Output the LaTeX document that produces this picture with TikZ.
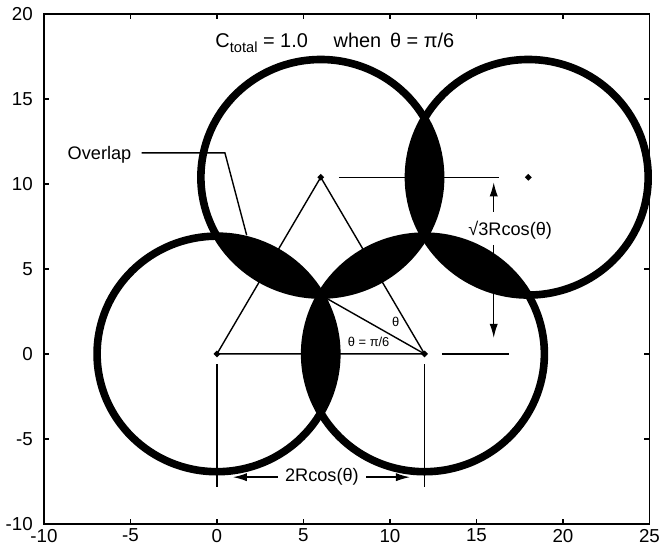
\documentclass[tikz,border=0pt]{standalone}
\usepackage{fontspec}
\setmainfont{Liberation Sans}
\usetikzlibrary{arrows.meta, shapes.geometric}
\newcommand{\radR}{6.928}

\begin{document}
\begin{tikzpicture}[x=0.519cm, y=0.51cm,
      ring/.style={line width=6.5pt},
      thinline/.style={line width=1.2pt},
      frame/.style={line width=1.4pt},
      dim/.style={-{Latex[length=12pt, width=7pt]}, line width=1.2pt},
      ctr/.style={diamond, fill=black, inner sep=0pt, minimum size=6pt},
      ticklabel/.style={font=\fontsize{16}{18}\selectfont, inner sep=2pt},
      note/.style={font=\fontsize{15.5}{17}\selectfont, inner sep=2pt},
      angle/.style={font=\fontsize{11}{12}\selectfont, inner sep=1pt}]
    \useasboundingbox (-12.54,-11.82) rectangle (25.9,20.82);
    % centres of the four circles
    \coordinate (cA) at (0,0);
    \coordinate (cB) at (12,0);
    \coordinate (cC) at (6,10.392);
    \coordinate (cD) at (18,10.392);
    \coordinate (cM) at (6,3.464);
    % overlaps, then the circles
    \foreach \p/\q in {cA/cB, cA/cC, cC/cB, cB/cD, cC/cD} {
      \begin{scope}
        \clip (\p) circle (\radR);
        \fill (\q) circle (\radR);
      \end{scope}
    }
    \foreach \c in {cA, cB, cC, cD}
      \draw[ring] (\c) circle (\radR);
    % triangle of centres
    \draw[thinline] (cA) -- (cB) -- (cC) -- cycle;
    \draw[thinline] (cB) -- (cM);
    \foreach \c in {cA, cB, cC, cD}
      \node[ctr] (m\c) at (\c) {};
    \node[angle] (thA) at (10.34,1.89) {θ};
    \node[angle] (thB) at (8.77,0.71) {θ = π/6};
    % overlap label
    \node[note, anchor=base east] (ovl) at (-4.8,11.42) {Overlap};
    \coordinate (ovK) at (0.46,11.83);
    \coordinate (ovE) at (1.72,6.98);
    \draw[thinline] (ovl.east |- ovK) ++(0.45,0) -- (ovK) -- (ovE);
    % height between rows
    \draw[thinline] (7.05,10.392) -- (16.3,10.392);
    \draw[thinline] (13,0) -- (16.9,0);
    \node[note] (sq3) at (16.95,7.3) {√3Rcos(θ)};
    \coordinate (aU) at (16,10.1);
    \coordinate (aL) at (16,0.94);
    \draw[dim] ([yshift=0.2cm]sq3.north -| aU) -- (aU);
    \draw[dim] ([yshift=-0.1cm]sq3.south -| aL) -- (aL);
    % spacing along a row
    \draw[thinline] (0,-0.6) -- (0,-7.8);
    \draw[thinline] (12,-0.6) -- (12,-7.8);
    \node[note] (twoR) at (6.07,-7.25) {2Rcos(θ)};
    \coordinate (dL) at (0.92,-7.25);
    \coordinate (dR) at (11.16,-7.25);
    \draw[dim] ([xshift=-0.15cm]twoR.west) -- (dL);
    \draw[dim] ([xshift=0.15cm]twoR.east) -- (dR);
    % axes
    \draw[frame] (-10,-10) rectangle (25,20);
    \foreach \x in {-10,-5,...,25} {
      \draw[frame] (\x,-10) -- ++(0,0.3) (\x,20) -- ++(0,-0.3);
      \node[ticklabel, anchor=north] (xl\x) at (\x,-10.15) {\x};
    }
    \foreach \y in {-10,-5,...,20} {
      \draw[frame] (-10,\y) -- ++(0.3,0) (25,\y) -- ++(-0.3,0);
      \node[ticklabel, anchor=east] (yl\y) at (-10.5,\y) {\y};
    }
    \node[font=\fontsize{17}{19}\selectfont, anchor=base west, inner sep=0pt] (ttl) at (-0.1,18.05)
      {C\raisebox{-0.55ex}{\fontsize{12.5}{13}\selectfont total} = 1.0\hspace{22pt}when\, θ = π/6};
  \end{tikzpicture}
\end{document}
